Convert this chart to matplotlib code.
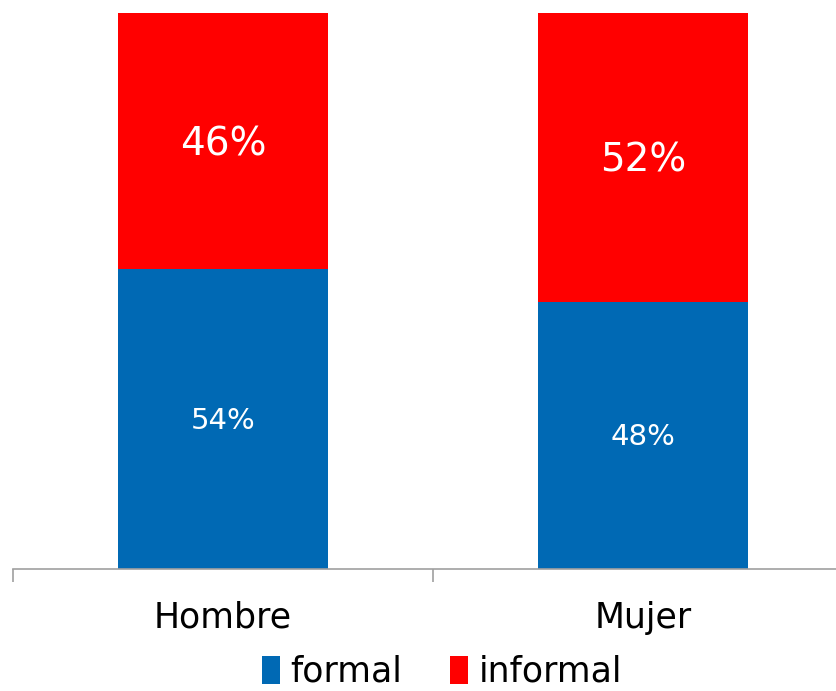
import matplotlib.pyplot as plt
import numpy as np

categories = ['Hombre', 'Mujer']
formal = [54, 48]
informal = [46, 52]

blue = '#0069B4'
red = '#FF0000'

fig = plt.figure(figsize=(8.37, 6.91), dpi=100)
ax = fig.add_axes([13 / 837, 122 / 691, 840 / 837, 556 / 691])

x = np.arange(len(categories))
b1 = ax.bar(x, formal, width=0.5, color=blue, label='formal')
b2 = ax.bar(x, informal, width=0.5, bottom=formal, color=red, label='informal')

for rect, v in zip(b1, formal):
    ax.text(rect.get_x() + rect.get_width() / 2, rect.get_height() / 2 - 0.3, f'{v}%',
            ha='center', va='center', color='white', fontsize=21)
for rect, base, v in zip(b2, formal, informal):
    ax.text(rect.get_x() + rect.get_width() / 2, base + v / 2 - 0.6, f'{v}%',
            ha='center', va='center', color='white', fontsize=28)

ax.set_xlim(-0.5, 1.5)
ax.set_ylim(0, 100)
ax.set_yticks([])
for s in ['left', 'right', 'top']:
    ax.spines[s].set_visible(False)
ax.spines['bottom'].set_color('#A0A0A0')
ax.spines['bottom'].set_linewidth(1.2)

ax.set_xticks(x)
ax.set_xticklabels(categories, fontsize=25)
ax.tick_params(axis='x', which='major', length=0, pad=23)
ax.set_xticks([-0.5, 0.5, 1.5], minor=True)
ax.tick_params(axis='x', which='minor', length=9, color='#A0A0A0', width=1.2)

fig.legend(handles=[b1, b2], labels=['formal', 'informal'], loc='center',
           bbox_to_anchor=(442 / 837, 19 / 691), ncol=2, frameon=False,
           fontsize=25, handlelength=0.5, handleheight=0.9, handletextpad=0.3,
           columnspacing=1.4)

fig.savefig('out.png', dpi=100)
